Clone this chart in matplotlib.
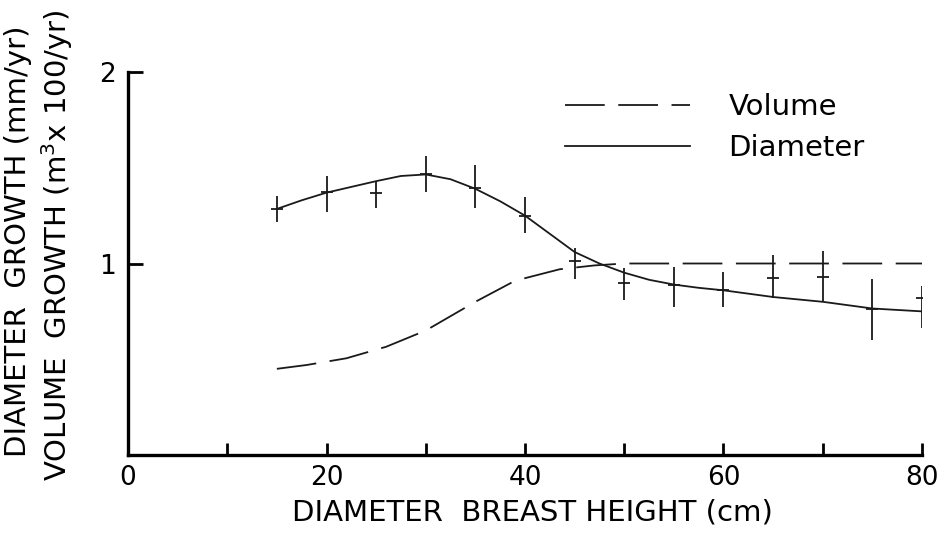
import matplotlib
matplotlib.use('Agg')
import matplotlib.pyplot as plt
from matplotlib.ticker import MultipleLocator

plt.rcParams['font.family'] = ['DejaVu Sans']

# measured points (diameter growth) with error bars
dbh = [15, 20, 25, 30, 35, 40, 45, 50, 55, 60, 65, 70, 75, 80]
diam_mean = [1.285, 1.374, 1.368, 1.467, 1.394, 1.248, 1.013, 0.898, 0.888, 0.862, 0.924, 0.930, 0.762, 0.820]
diam_low = [1.217, 1.269, 1.290, 1.373, 1.290, 1.159, 0.919, 0.809, 0.773, 0.773, 0.820, 0.799, 0.600, 0.663]
diam_high = [1.352, 1.457, 1.431, 1.561, 1.514, 1.347, 1.081, 0.977, 0.982, 0.956, 1.044, 1.065, 0.919, 0.883]

# fitted diameter curve
diam_x = [15, 17.5, 20, 22.5, 25, 27.5, 30, 32.5, 35, 37.5, 40, 42.5, 45, 47.5, 50, 52.5, 55, 57.5, 60, 65, 70, 75, 80]
diam_y = [1.285, 1.33, 1.37, 1.40, 1.43, 1.457, 1.465, 1.44, 1.39, 1.325, 1.25, 1.155, 1.06, 1.0, 0.952, 0.915, 0.89, 0.873, 0.86, 0.825, 0.80, 0.765, 0.75]

# volume curve
vol_x = [15, 18, 22, 26, 30, 35, 39, 43.5, 47, 50, 80]
vol_y = [0.45, 0.47, 0.505, 0.565, 0.65, 0.80, 0.91, 0.97, 0.99, 1.0, 1.0]

fig = plt.figure(figsize=(9.45, 5.34), dpi=100)
ax = fig.add_axes([128/945, 1 - 455/534, (922 - 128)/945, (455 - 72)/534])

lc = '#1a1a1a'
ax.plot(vol_x, vol_y, color=lc, lw=1.3, dashes=(22, 7.5), label='Volume')
ax.plot(diam_x, diam_y, color=lc, lw=1.3, label='Diameter')

err_lo = [m - l for m, l in zip(diam_mean, diam_low)]
err_hi = [h - m for m, h in zip(diam_mean, diam_high)]
ax.errorbar(dbh, diam_mean, yerr=[err_lo, err_hi], fmt='_', color=lc,
            ms=9, mew=1.3, elinewidth=1.3, capsize=0)

ax.set_xlim(0, 80)
ax.set_ylim(0, 2)
for s in ['top', 'right']:
    ax.spines[s].set_visible(False)
for s in ['left', 'bottom']:
    ax.spines[s].set_linewidth(2.4)

ax.xaxis.set_major_locator(MultipleLocator(20))
ax.xaxis.set_minor_locator(MultipleLocator(10))
ax.set_yticks([1, 2])
ax.tick_params(axis='x', which='both', direction='in', length=9, width=2, pad=7, labelsize=19)
ax.tick_params(axis='y', which='both', direction='in', length=11, width=2, pad=9, labelsize=19)

fig.text(0.563, 0.041, 'DIAMETER  BREAST HEIGHT (cm)', ha='center', va='center', fontsize=21)
fig.text(18/945, 0.549, 'DIAMETER  GROWTH (mm/yr)', rotation=90, ha='center', va='center', fontsize=21)
fig.text(57/945, 0.54, 'VOLUME  GROWTH (m$^3$x 100/yr)', rotation=90, ha='center', va='center', fontsize=21)

ax.legend(loc='upper left', bbox_to_anchor=(565/945, 1 - 93/534), bbox_transform=fig.transFigure,
          frameon=False, fontsize=21, handlelength=4.3, handletextpad=1.3,
          labelspacing=0.45, borderpad=0, borderaxespad=0)

fig.savefig('out.png', dpi=100)
